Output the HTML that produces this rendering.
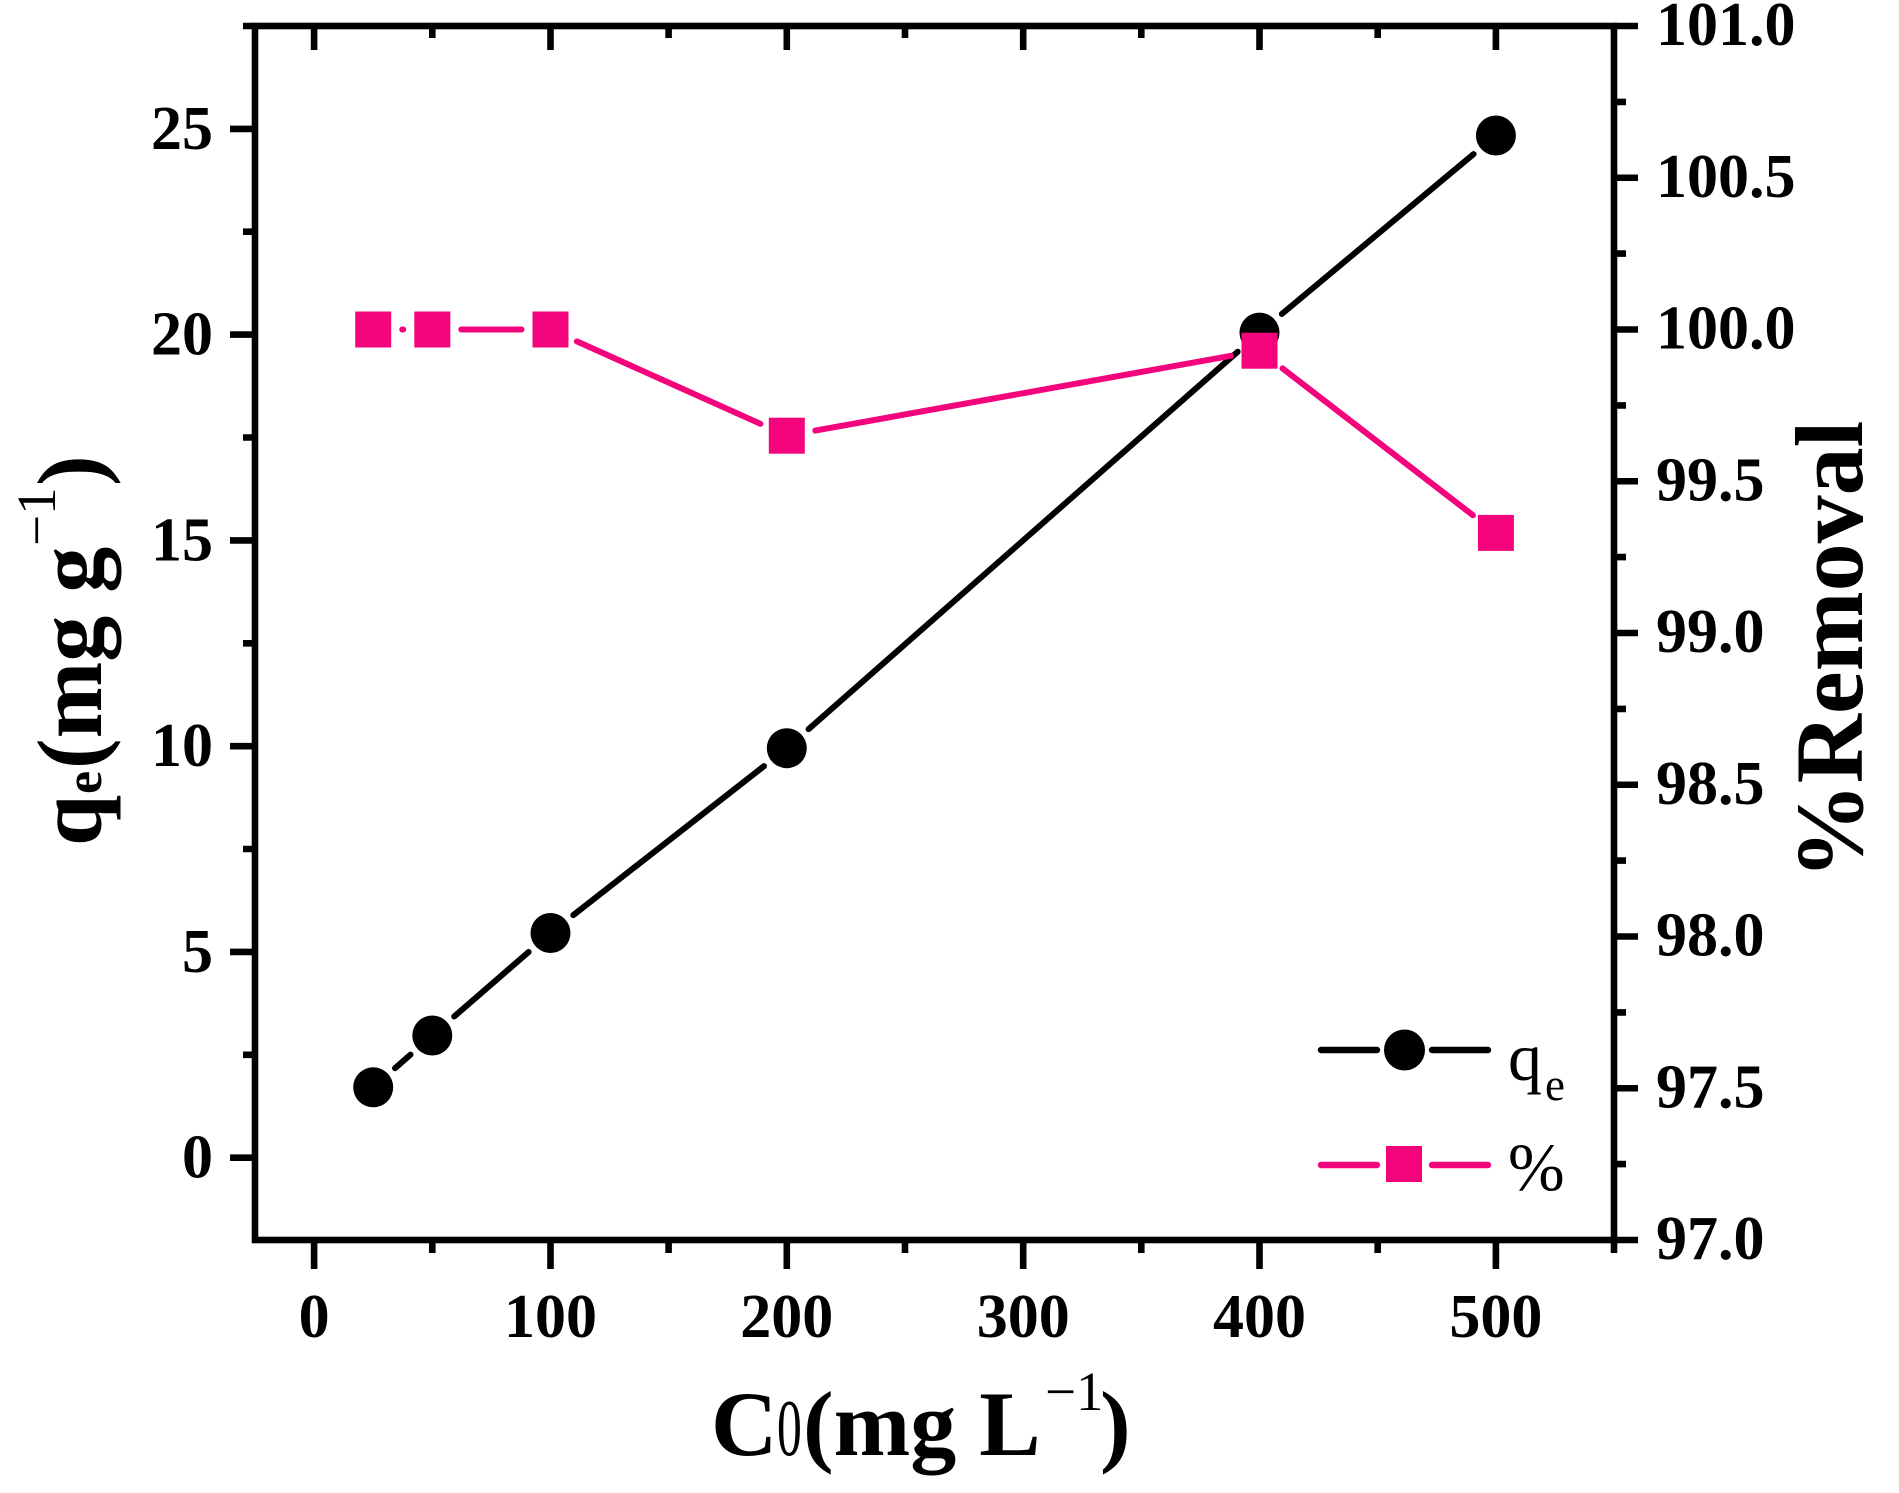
<!DOCTYPE html>
<html>
<head>
<meta charset="utf-8">
<style>
  html, body { margin: 0; padding: 0; background: #ffffff; }
  svg { display: block; }
  text { font-family: "Liberation Serif", "Times New Roman", serif; fill: #000; }
</style>
</head>
<body>
<svg width="1899" height="1493" viewBox="0 0 1899 1493" xmlns="http://www.w3.org/2000/svg">
  <rect x="0" y="0" width="1899" height="1493" fill="#ffffff"/>

  <!-- Ticks -->
  <g stroke="#000" stroke-width="6.6" stroke-linecap="butt" fill="none">
    <!-- bottom major -->
    <path d="M314.1 1240V1269 M550.5 1240V1269 M786.8 1240V1269 M1023.2 1240V1269 M1259.5 1240V1269 M1495.9 1240V1269"/>
    <!-- bottom minor -->
    <path d="M432.3 1240V1253 M668.6 1240V1253 M905 1240V1253 M1141.3 1240V1253 M1377.7 1240V1253 M1614 1240V1253"/>
    <!-- top major (inward) -->
    <path d="M314.1 26V50 M550.5 26V50 M786.8 26V50 M1023.2 26V50 M1259.5 26V50 M1495.9 26V50"/>
    <!-- top minor (inward) -->
    <path d="M432.3 26V38 M668.6 26V38 M905 26V38 M1141.3 26V38 M1377.7 26V38"/>
    <!-- left major -->
    <path d="M255 1157.7H230 M255 951.9H230 M255 746.2H230 M255 540.4H230 M255 334.6H230 M255 128.9H230"/>
    <!-- left minor -->
    <path d="M255 1054.8H243 M255 849H243 M255 643.3H243 M255 437.5H243 M255 231.7H243 M255 26H243"/>
    <!-- right major -->
    <path d="M1614 1240H1638 M1614 1088.25H1638 M1614 936.5H1638 M1614 784.75H1638 M1614 633H1638 M1614 481.25H1638 M1614 329.5H1638 M1614 177.75H1638 M1614 26H1638"/>
    <!-- right minor -->
    <path d="M1614 1164.1H1626 M1614 1012.4H1626 M1614 860.6H1626 M1614 708.9H1626 M1614 557.1H1626 M1614 405.4H1626 M1614 253.6H1626 M1614 101.9H1626"/>
  </g>

  <!-- Frame -->
  <rect x="255" y="26" width="1359" height="1214" fill="none" stroke="#000" stroke-width="6.6" stroke-linejoin="miter"/>

  <!-- Black qe series lines -->
  <g stroke="#000" stroke-width="6" stroke-linecap="round" fill="none">
    <line x1="395.0" y1="1068.2" x2="410.5" y2="1054.6"/>
    <line x1="454.2" y1="1016.5" x2="528.6" y2="952.0"/>
    <line x1="573.3" y1="915.1" x2="764.0" y2="766.1"/>
    <line x1="808.6" y1="729.1" x2="1237.7" y2="351.7"/>
    <line x1="1281.8" y1="314.0" x2="1473.6" y2="154.1"/>
  </g>
  <!-- Black markers -->
  <g fill="#000">
    <circle cx="373.2" cy="1087.3" r="20"/>
    <circle cx="432.3" cy="1035.5" r="20"/>
    <circle cx="550.5" cy="933.0" r="20"/>
    <circle cx="786.8" cy="748.2" r="20"/>
    <circle cx="1259.5" cy="332.6" r="20"/>
    <circle cx="1495.9" cy="135.5" r="20"/>
  </g>

  <!-- Pink % series lines -->
  <g stroke="#F4047C" stroke-width="6" stroke-linecap="round" fill="none">
    <line x1="402.2" y1="329.5" x2="403.3" y2="329.5"/>
    <line x1="461.3" y1="329.5" x2="521.5" y2="329.5"/>
    <line x1="576.9" y1="341.4" x2="760.4" y2="423.8"/>
    <line x1="815.3" y1="430.6" x2="1231.0" y2="355.8"/>
    <line x1="1282.5" y1="368.4" x2="1472.9" y2="515.2"/>
  </g>
  <!-- Pink markers -->
  <g fill="#F4047C">
    <rect x="355.2" y="311.5" width="36" height="36"/>
    <rect x="414.3" y="311.5" width="36" height="36"/>
    <rect x="532.5" y="311.5" width="36" height="36"/>
    <rect x="768.8" y="417.7" width="36" height="36"/>
    <rect x="1241.5" y="332.7" width="36" height="36"/>
    <rect x="1477.9" y="514.9" width="36" height="36"/>
  </g>

  <!-- Legend -->
  <g stroke-width="6.4" stroke-linecap="round">
    <line x1="1321" y1="1050" x2="1377" y2="1050" stroke="#000"/>
    <line x1="1432" y1="1050" x2="1488" y2="1050" stroke="#000"/>
    <line x1="1321" y1="1165" x2="1377" y2="1165" stroke="#F4047C"/>
    <line x1="1432" y1="1165" x2="1488" y2="1165" stroke="#F4047C"/>
  </g>
  <circle cx="1404.5" cy="1050" r="20.5" fill="#000"/>
  <rect x="1386" y="1146" width="36" height="36" fill="#F4047C"/>
  <text x="1508" y="1080" font-size="68">q</text>
  <text x="1545" y="1100" font-size="45">e</text>
  <text x="1508" y="1190" font-size="68">%</text>

  <!-- Left tick labels -->
  <g font-size="62" font-weight="bold" text-anchor="end">
    <text x="213" y="1177.7">0</text>
    <text x="213" y="971.9">5</text>
    <text x="213" y="766.2">10</text>
    <text x="213" y="560.4">15</text>
    <text x="213" y="354.6">20</text>
    <text x="213" y="148.9">25</text>
  </g>

  <!-- Bottom tick labels -->
  <g font-size="62" font-weight="bold" text-anchor="middle">
    <text x="314.1" y="1337">0</text>
    <text x="550.5" y="1337">100</text>
    <text x="786.8" y="1337">200</text>
    <text x="1023.2" y="1337">300</text>
    <text x="1259.5" y="1337">400</text>
    <text x="1495.9" y="1337">500</text>
  </g>

  <!-- Right tick labels -->
  <g font-size="62" font-weight="bold" text-anchor="start">
    <text x="1656" y="1259">97.0</text>
    <text x="1656" y="1107.25">97.5</text>
    <text x="1656" y="955.5">98.0</text>
    <text x="1656" y="803.75">98.5</text>
    <text x="1656" y="652">99.0</text>
    <text x="1656" y="500.25">99.5</text>
    <text x="1656" y="348.5">100.0</text>
    <text x="1656" y="196.75">100.5</text>
    <text x="1656" y="45">101.0</text>
  </g>

  <!-- X axis title: C0(mg L-1) -->
  <text x="711" y="1455" font-size="92" font-weight="bold">C</text>
  <text transform="translate(777,1455) scale(0.62,1)" font-size="80">0</text>
  <text x="803" y="1455" font-size="92" font-weight="bold" xml:space="preserve">(mg L</text>
  <text x="1045" y="1410" font-size="55">−1</text>
  <text x="1100" y="1455" font-size="92" font-weight="bold">)</text>

  <!-- Left Y axis title: qe(mg g-1), rotated -->
  <g transform="translate(101,846) rotate(-90)">
    <text x="0" y="0" font-size="92" font-weight="bold">q</text>
    <text x="52" y="0" font-size="52" font-weight="bold">e</text>
    <text x="77" y="0" font-size="92" font-weight="bold" xml:space="preserve">(mg g</text>
    <text x="300" y="-46" font-size="55">−1</text>
    <text x="360" y="0" font-size="92" font-weight="bold">)</text>
  </g>

  <!-- Right Y axis title: %Removal, rotated -->
  <text transform="translate(1862,650) rotate(-90)" font-size="96" font-weight="bold" text-anchor="middle">%Removal</text>
</svg>
</body>
</html>
